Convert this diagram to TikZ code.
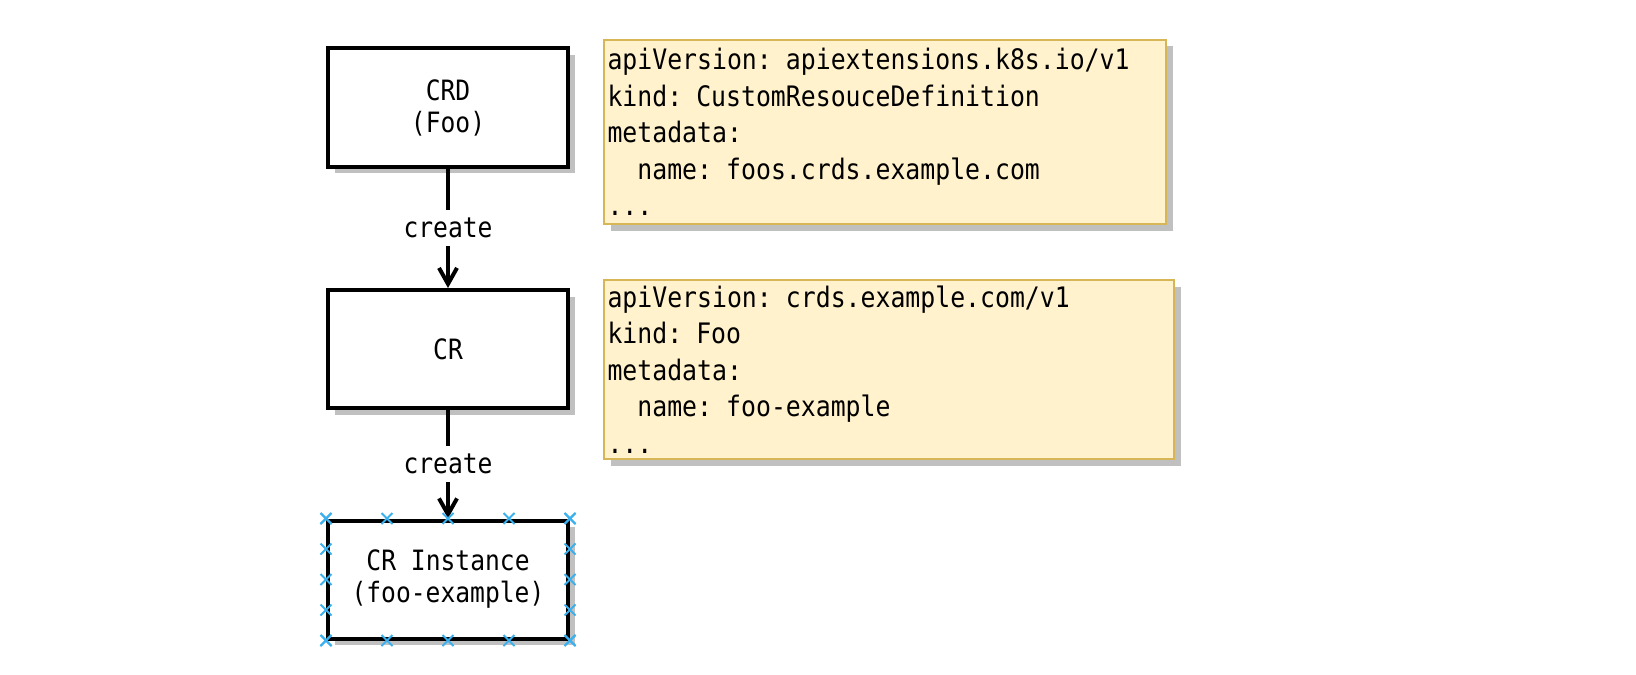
\documentclass[tikz,border=0pt]{standalone}
\usepackage{fontspec}
\setmonofont[FakeStretch=0.88]{DejaVu Sans Mono}
\usetikzlibrary{arrows.meta,shadows,calc,shapes.misc}
\definecolor{yamlfill}{HTML}{FFF2CC}
\definecolor{yamlline}{HTML}{D6B656}
\definecolor{shadowgray}{HTML}{C0C0C0}
\definecolor{pickblue}{HTML}{3BB0EE}
\tikzset{
  boxshadow/.style={drop shadow={shadow xshift=3.25pt,shadow yshift=-3.25pt,fill=shadowgray,opacity=1}},
  res/.style={draw,line width=2pt,fill=white,minimum width=120pt,minimum height=59pt,
    align=center,font=\fontsize{14}{16}\selectfont\ttfamily,boxshadow},
  yaml/.style={draw=yamlline,line width=1pt,fill=yamlfill,anchor=north west,align=left,
    inner xsep=1.75pt,inner ysep=0pt,font=\fontsize{14.1}{18.25}\selectfont\ttfamily,boxshadow},
  mkarrow/.style={line width=2pt,-{Straight Barb[length=8pt,width=9pt,line width=2pt]}},
  lbl/.style={fill=white,inner sep=0pt,minimum height=18pt,font=\fontsize{14}{16}\selectfont\ttfamily},
  pick/.style={cross out,draw=pickblue,line width=1pt,minimum size=4.5pt,inner sep=0pt},
}
\begin{document}
\begin{tikzpicture}[x=0.5pt,y=-0.5pt]
\useasboundingbox (0,0) rectangle (1636,674);
% resources
\node[res] (crd) at (448,107.5) {CRD\\(Foo)};
\node[res] (cr) at (448,349) {CR};
\node[res] (inst) at (448,579.5) {CR Instance\\(foo-example)};
\draw[mkarrow] (crd) -- node[lbl] (lblA) {create} (cr);
\draw[mkarrow] (cr) -- node[lbl] (lblB) {create} (inst);
% selection marks
\foreach \f [count=\i] in {0,0.25,0.5,0.75,1} {
  \node[pick] (markt\i) at ($(inst.north west)!\f!(inst.north east)$) {};
  \node[pick] (markb\i) at ($(inst.south west)!\f!(inst.south east)$) {};
  \node[pick] (markl\i) at ($(inst.north west)!\f!(inst.south west)$) {};
  \node[pick] (markr\i) at ($(inst.north east)!\f!(inst.south east)$) {};
}
% yaml
\node[yaml,text width=277.5pt,minimum height=92pt] (yamlA) at (603,39)
  {apiVersion: apiextensions.k8s.io/v1\\kind: CustomResouceDefinition\\metadata:\\\phantom{aa}name: foos.crds.example.com\\...};
\node[yaml,text width=281.5pt,minimum height=89.5pt] (yamlB) at (603,279)
  {apiVersion: crds.example.com/v1\\kind: Foo\\metadata:\\\phantom{aa}name: foo-example\\...};
\end{tikzpicture}
\end{document}
